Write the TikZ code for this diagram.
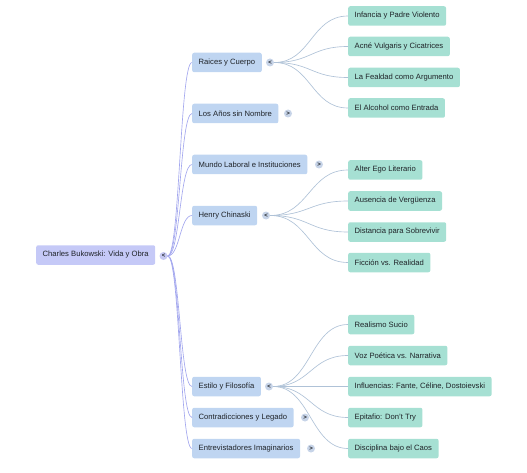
\documentclass[tikz,border=0pt]{standalone}
\usepackage{fontspec}
\setmainfont{Liberation Sans}
\usetikzlibrary{calc}
\definecolor{rootfill}{HTML}{C5C9F7}
\definecolor{lonefill}{HTML}{BFD5F1}
\definecolor{ltwofill}{HTML}{A6E0D3}
\definecolor{txt}{HTML}{1F2328}
\definecolor{rootlink}{HTML}{A3A7EE}
\definecolor{sublink}{HTML}{AFC2D7}
\definecolor{rootdot}{HTML}{C6C9F2}
\definecolor{subdot}{HTML}{C7D4E8}
\newcommand{\mmlink}[3]{\draw[#1] let \p1=(#2), \p2=(#3) in (\p1) .. controls ({(\x1+\x2)/2},\y1) and ({(\x1+\x2)/2},\y2) .. (\p2);}
\begin{document}
\begin{tikzpicture}[x=1pt,y=-1pt,
  box/.style={anchor=west,rounded corners=2pt,inner xsep=6.5pt,inner ysep=0pt,minimum height=19.5pt,text=txt,font=\fontsize{7.65}{8}\selectfont},
  rootbox/.style={box,fill=rootfill},
  onebox/.style={box,fill=lonefill},
  twobox/.style={box,fill=ltwofill},
  dot/.style={circle,inner sep=0pt,minimum size=8pt,text=txt,font=\fontsize{6}{6}\selectfont\bfseries},
  rdot/.style={dot,fill=rootdot},
  sdot/.style={dot,fill=subdot},
  rl/.style={draw=rootlink,line width=0.65pt},
  sl/.style={draw=sublink,line width=0.65pt}]
\useasboundingbox (0,0) rectangle (527,473);
% root
\node[rootbox] (root) at (36,255) {Charles Bukowski: Vida y Obra};
\node[rdot] (rc) at (163.5,256) {<};
% level 1
\node[onebox] (a) at (192,62.5) {Raices y Cuerpo};
\node[sdot] (ac) at (270,62.5) {<};
\node[onebox] (b) at (192,113.5) {Los Años sin Nombre};
\node[sdot] (bc) at (288,113.5) {>};
\node[onebox] (c) at (192,164.5) {Mundo Laboral e Instituciones};
\node[sdot] (cc) at (319,164.5) {>};
\node[onebox] (d) at (192,215.5) {Henry Chinaski};
\node[sdot] (dc) at (266,215.5) {<};
\node[onebox] (e) at (192,386.5) {Estilo y Filosofía};
\node[sdot] (ec) at (269,386.5) {<};
\node[onebox] (f) at (192,417.5) {Contradicciones y Legado};
\node[sdot] (fc) at (305,417.5) {>};
\node[onebox] (g) at (192,448.5) {Entrevistadores Imaginarios};
\node[sdot] (gc) at (311,448.5) {>};
% level 2
\node[twobox] (a1) at (348,16) {Infancia y Padre Violento};
\node[twobox] (a2) at (348,46.5) {Acné Vulgaris y Cicatrices};
\node[twobox] (a3) at (348,77.5) {La Fealdad como Argumento};
\node[twobox] (a4) at (348,108) {El Alcohol como Entrada};
\node[twobox] (d1) at (348,170) {Alter Ego Literario};
\node[twobox] (d2) at (348,201) {Ausencia de Vergüenza};
\node[twobox] (d3) at (348,232) {Distancia para Sobrevivir};
\node[twobox] (d4) at (348,262.5) {Ficción vs. Realidad};
\node[twobox] (e1) at (348,324.5) {Realismo Sucio};
\node[twobox] (e2) at (348,355.5) {Voz Poética vs. Narrativa};
\node[twobox] (e3) at (348,386.5) {Influencias: Fante, Céline, Dostoievski};
\node[twobox] (e4) at (348,417.5) {Epitafio: Don't Try};
\node[twobox] (e5) at (348,448.5) {Disciplina bajo el Caos};
% links
\foreach \t in {a,b,c,d,e,f,g} {\mmlink{rl}{rc.east}{\t.west}}
\foreach \t in {a1,a2,a3,a4} {\mmlink{sl}{ac.east}{\t.west}}
\foreach \t in {d1,d2,d3,d4} {\mmlink{sl}{dc.east}{\t.west}}
\foreach \t in {e1,e2,e3,e4,e5} {\mmlink{sl}{ec.east}{\t.west}}
\end{tikzpicture}
\end{document}
